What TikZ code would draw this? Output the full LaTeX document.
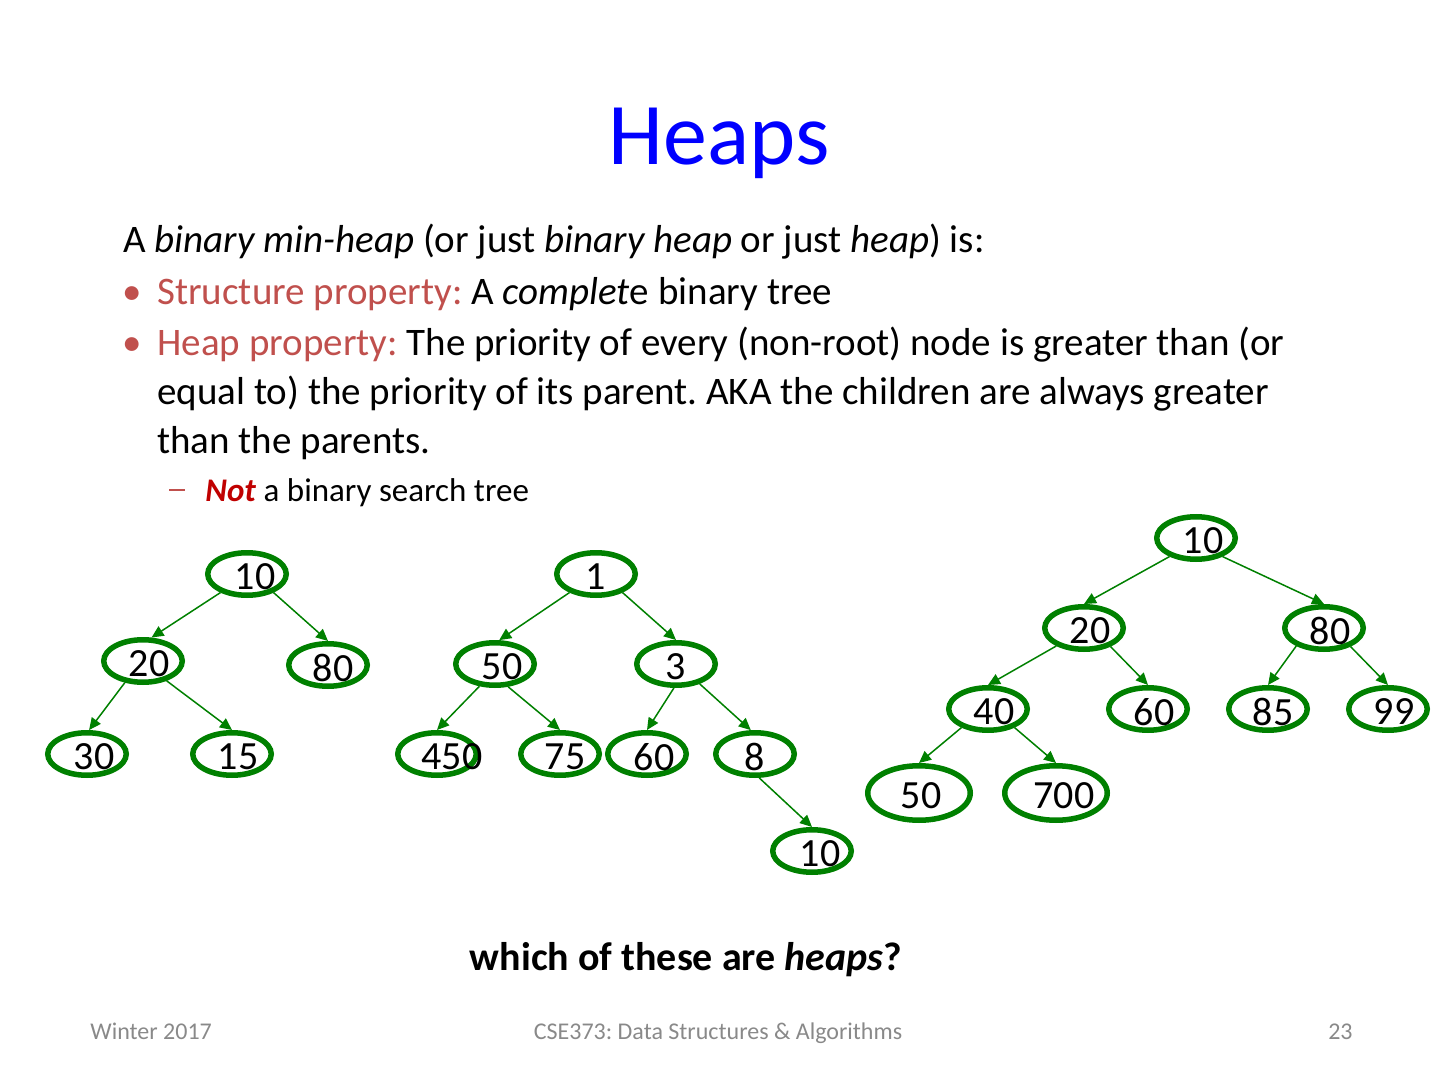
\documentclass[tikz,border=0pt]{standalone}
\usepackage{fontspec}
\setmainfont{Carlito}
\usetikzlibrary{arrows.meta,shapes.geometric}
\definecolor{hgreen}{RGB}{0,128,0}
\definecolor{titleblue}{RGB}{0,0,255}
\definecolor{propred}{RGB}{192,80,77}
\definecolor{notred}{RGB}{192,0,0}
\definecolor{footgray}{RGB}{137,137,137}
\tikzset{
  hn/.style={ellipse, draw=hgreen, line width=2.75pt, minimum width=39.25pt, minimum height=21.25pt, inner sep=0pt},
  hbig/.style={minimum width=51.25pt, minimum height=27.25pt},
  hlab/.style={inner sep=0pt, font=\fontsize{20}{24}\selectfont},
  hedge/.style={draw=hgreen, line width=0.75pt, -{Triangle[length=6pt,width=5.5pt]}},
  body/.style={anchor=base west, inner sep=0pt, font=\fontsize{19.5}{23.4}\selectfont},
  foot/.style={inner sep=0pt, text=footgray, font=\fontsize{12}{14}\selectfont}
}
\newcommand\heapnode[5][]{%
  \node[hn,#1] (#2) at (#3) {};
  \node[hlab] (#2t) at ([xshift=#5pt,yshift=-1.5pt]#2.center) {#4};}
\begin{document}
\frenchspacing
\begin{tikzpicture}[x=0.5pt,y=-0.5pt]
\useasboundingbox (0,0) rectangle (1440,1080);
% title
\node[anchor=base, inner sep=0pt, text=titleblue, font=\fontsize{44}{53}\selectfont] (title) at (719,165) {Heaps};
% body
\node[body] (l1) at (123,253) {A \textit{binary min-heap} (or just \textit{binary heap} or just \textit{heap}) is:};
\node[body, text=propred] (b1) at (122,305) {•};
\node[body] (l2) at (157,305) {{\color{propred}Structure property:} A \textit{complet}e binary tree};
\node[body, text=propred] (b2) at (122,356) {•};
\node[body] (l3) at (157,356) {{\color{propred}Heap property:} The priority of every (non-root) node is greater than (or};
\node[body] (l4) at (157,405) {equal to) the priority of its parent. AKA the children are always greater};
\node[body] (l5) at (157,453) {than the parents.};
\node[body, text=propred, font=\fontsize{16.5}{20}\selectfont] (d1) at (169,502) {\rule[5.5pt]{8pt}{0.9pt}};
\node[body, font=\fontsize{16.5}{20}\selectfont] (l6) at (205,502) {{\color{notred}\textbf{\textit{Not}}} a binary search tree};
% tree 1
\heapnode{a1}{247,574}{10}{4}
\heapnode{a2}{143,661}{20}{3}
\heapnode{a3}{328,665}{80}{2.5}
\heapnode{a4}{87,754}{30}{3.5}
\heapnode{a5}{232,754}{15}{3}
\draw[hedge] (a1.215) -- (a2.70);
\draw[hedge] (a1.325) -- (a3.north);
\draw[hedge] (a2.230) -- (a4.85);
\draw[hedge] (a2.320) -- (a5.north);
% tree 2
\heapnode{b1n}{596,574}{1}{0}
\heapnode{b2n}{495,664}{50}{3.5}
\heapnode{b3n}{676,664}{3}{0}
\heapnode{b4n}{437,754}{450}{7.5}
\heapnode{b5n}{560,754}{75}{2.5}
\heapnode{b6n}{647,754}{60}{3.5}
\heapnode{b7n}{755,754}{8}{0}
\heapnode{b8n}{812,851}{10}{4}
\draw[hedge] (b1n.215) -- (b2n.80);
\draw[hedge] (b1n.325) -- (b3n.north);
\draw[hedge] (b2n.235) -- (b4n.north);
\draw[hedge] (b2n.300) -- (b5n.north);
\draw[hedge] (b3n.265) -- (b6n.north);
\draw[hedge] (b3n.320) -- (b7n.100);
\draw[hedge] (b7n.280) -- (b8n.north);
% tree 3
\heapnode{c1}{1196,538}{10}{3.5}
\heapnode{c2}{1084,628}{20}{3}
\heapnode{c3}{1324,628}{80}{3}
\heapnode{c4}{988,709}{40}{3}
\heapnode{c5}{1148,709}{60}{3}
\heapnode{c6}{1268,709}{85}{2.5}
\heapnode{c7}{1388,709}{99}{3}
\heapnode[hbig]{c8}{919,793}{50}{1}
\heapnode[hbig]{c9}{1056,793}{700}{4}
\draw[hedge] (c1.215) -- (c2.north);
\draw[hedge] (c1.325) -- (c3.north);
\draw[hedge] (c2.213) -- (c4.north);
\draw[hedge] (c2.325) -- (c5.north);
\draw[hedge] (c3.213) -- (c6.north);
\draw[hedge] (c3.325) -- (c7.north);
\draw[hedge] (c4.215) -- (c8.north);
\draw[hedge] (c4.325) -- (c9.north);
% question
\node[anchor=base, inner sep=0pt, font=\fontsize{20}{24}\selectfont\bfseries] (q) at (686,970) {which of these are \textit{heaps}?};
% footer
\node[foot, anchor=base west] (f1) at (90,1039) {Winter 2017};
\node[foot, anchor=base] (f2) at (718,1039) {CSE373: Data Structures \& Algorithms};
\node[foot, anchor=base east] (f3) at (1353,1039) {23};
\end{tikzpicture}
\end{document}
